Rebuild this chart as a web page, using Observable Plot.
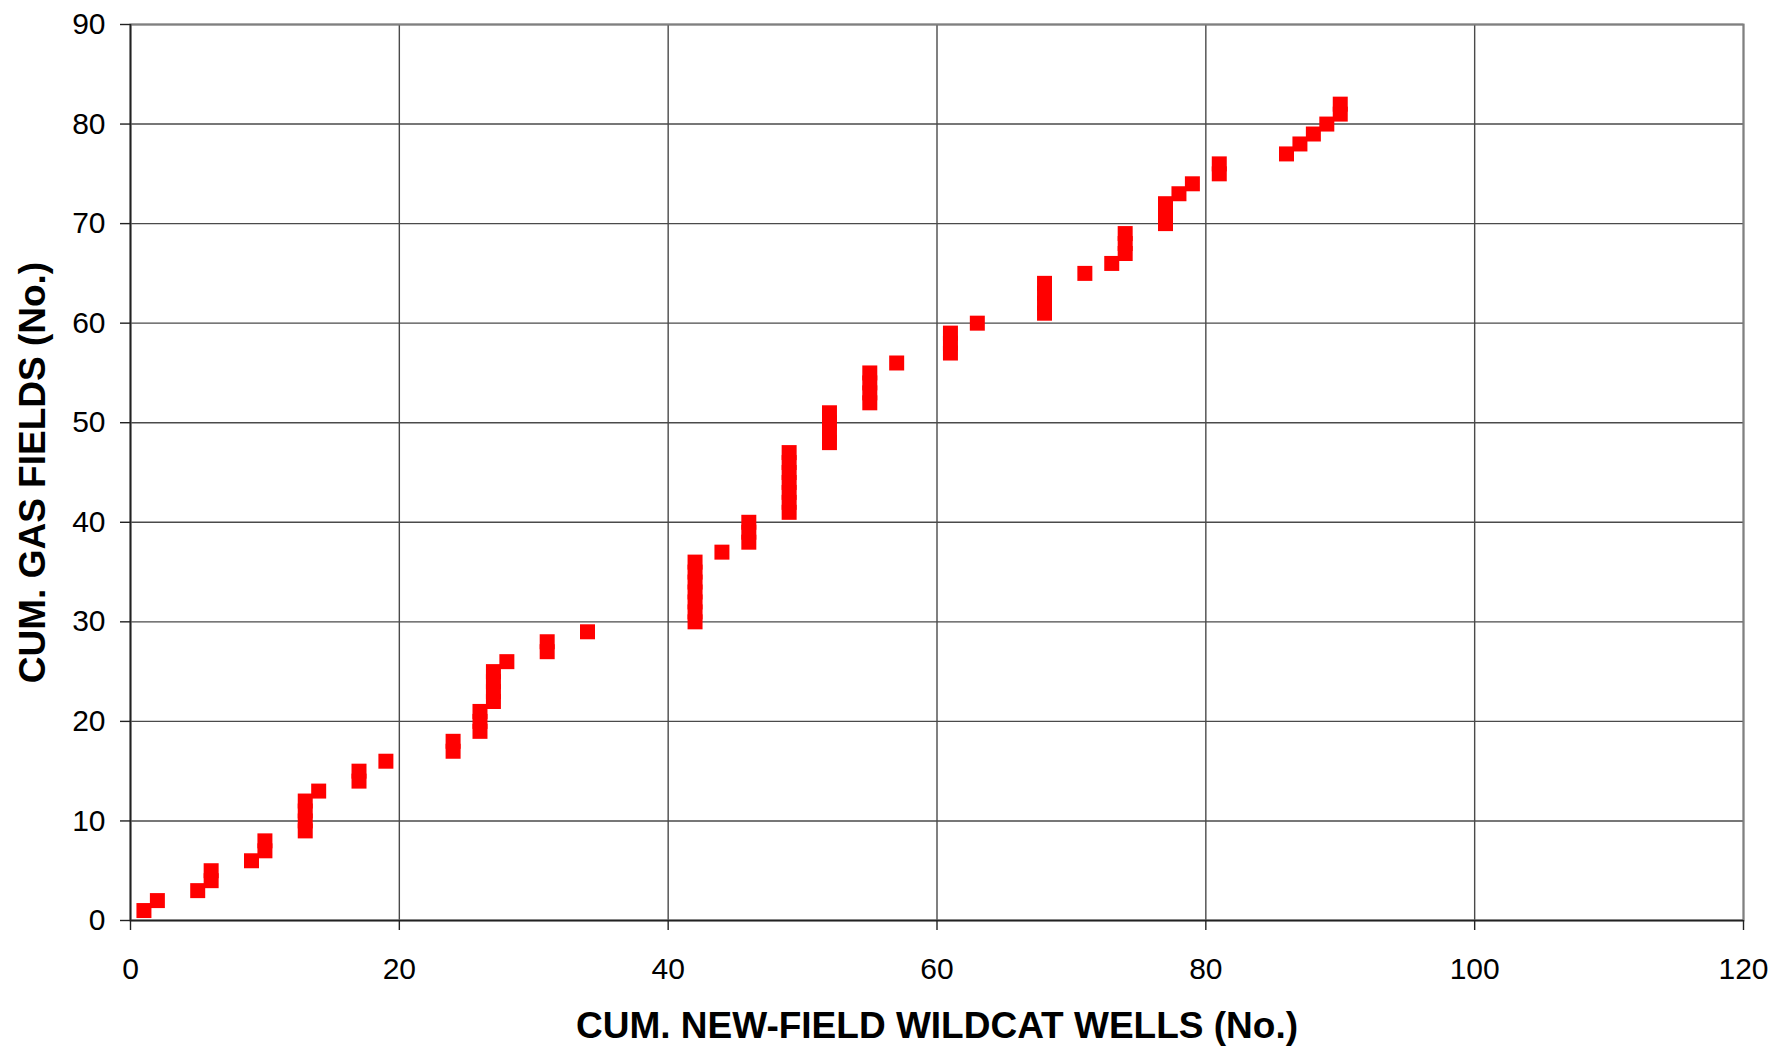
<!DOCTYPE html>
<html>
<head>
<meta charset="utf-8">
<script src="https://cdn.jsdelivr.net/npm/d3@7"></script>
<script src="https://cdn.jsdelivr.net/npm/@observablehq/plot@0.6"></script>
<style>
  html, body { margin: 0; padding: 0; background: #fff; }
  #chart svg { display: block; }
</style>
</head>
<body>
<div id="chart"></div>
<script>
// Cumulative new-field wildcat wells (x) for each cumulative gas field count (y)
const wells = [1,2,5,6,6,9,10,10,13,13,13,13,14,17,17,19,24,24,26,26,26,27,27,27,27,28,31,31,34,
  42,42,42,42,42,42,42,44,46,46,46,49,49,49,49,49,49,49,52,52,52,52,55,55,55,55,57,61,61,61,63,
  68,68,68,68,71,73,74,74,74,77,77,77,78,79,81,81,86,87,88,89,90,90];
const fields = [1,2,3,4,5,6,7,8,9,10,11,12,13,14,15,16,17,18,19,20,21,22,23,24,25,26,27,28,29,
  30,31,32,33,34,35,36,37,38,39,40,41,42,43,44,45,46,47,48,49,50,51,52,53,54,55,56,57,58,59,60,
  61,62,63,64,65,66,67,68,69,70,71,72,73,74,75,76,77,78,79,80,81,82];
const xTicks = [0,20,40,60,80,100,120];
const yTicks = [0,10,20,30,40,50,60,70,80,90];
const xTitle = "CUM. NEW-FIELD WILDCAT WELLS (No.)";
const yTitle = "CUM. GAS FIELDS (No.)";

const data = wells.map((w, i) => ({wells: w, fields: fields[i]}));

const chart = Plot.plot({
  width: 1775,
  height: 1047,
  marginLeft: 130,
  marginRight: 32,
  marginTop: 24,
  marginBottom: 127,
  style: {fontFamily: "'Liberation Sans', Arial, sans-serif", background: "#fff", color: "#000"},
  x: {domain: [0, 120]},
  y: {domain: [0, 90]},
  marks: [
    Plot.gridX(xTicks, {stroke: "#4a4a4a", strokeOpacity: 1, strokeWidth: 1.4}),
    Plot.gridY(yTicks, {stroke: "#4a4a4a", strokeOpacity: 1, strokeWidth: 1.4}),
    Plot.frame({stroke: "#808080", strokeWidth: 2}),
    Plot.ruleX([0], {stroke: "#222", strokeWidth: 1.6}),
    Plot.ruleY([0], {stroke: "#222", strokeWidth: 1.6}),
    Plot.axisX(xTicks, {tickSize: 10, tickPadding: 27, fontSize: 30, label: null, stroke: "#222", strokeWidth: 1.4}),
    Plot.axisY(yTicks, {tickSize: 10, tickPadding: 15, fontSize: 30, label: null, stroke: "#222", strokeWidth: 1.4}),
    Plot.dot(data, {x: "wells", y: "fields", symbol: "square", r: 8.46, fill: "#ff0000", stroke: "none"}),
    Plot.text([xTitle], {frameAnchor: "bottom", dy: 117, lineAnchor: "bottom", text: d => d,
      fontSize: 37, fontWeight: "bold", fill: "#000"}),
    Plot.text([yTitle], {frameAnchor: "left", dx: -86, rotate: -90, textAnchor: "middle", lineAnchor: "bottom", text: d => d,
      fontSize: 37, fontWeight: "bold", fill: "#000"})
  ]
});
document.getElementById("chart").appendChild(chart);
</script>
</body>
</html>
